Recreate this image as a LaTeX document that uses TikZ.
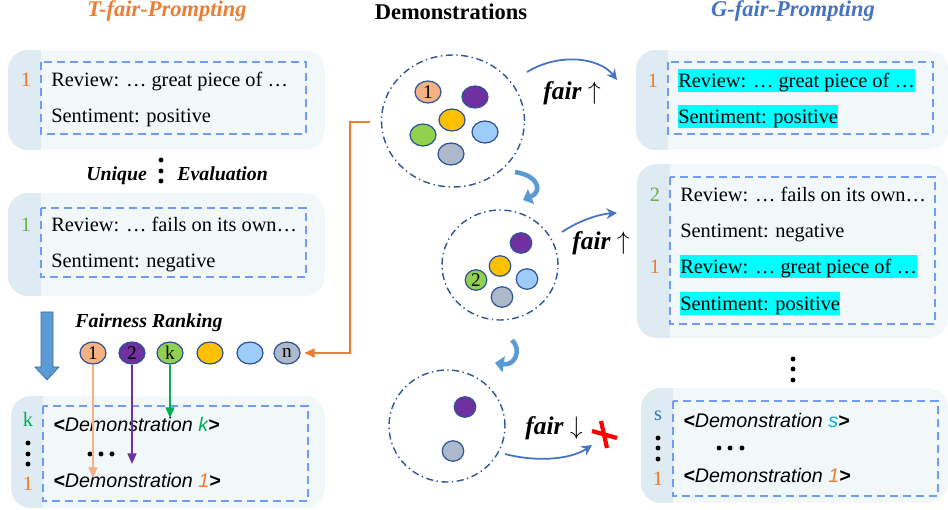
\documentclass[tikz,border=0pt]{standalone}
\usepackage{fontspec}
\setmainfont{Liberation Serif}
\setsansfont{Liberation Sans}
\usetikzlibrary{arrows.meta,shapes.geometric}

\definecolor{torange}{HTML}{ED7D31}
\definecolor{gblue}{HTML}{4472C4}
\definecolor{lgreen}{HTML}{70AD47}
\definecolor{kgreen}{HTML}{00B050}
\definecolor{sblue}{HTML}{2E75B6}
\definecolor{scyan}{HTML}{00B0F0}
\definecolor{panelfill}{HTML}{F2F7FA}
\definecolor{stripfill}{HTML}{DEEBF2}
\definecolor{dashblue}{HTML}{6F9CF6}
\definecolor{poolline}{HTML}{2F5597}
\definecolor{ballline}{HTML}{2F5597}
\definecolor{cpeach}{HTML}{F4B183}
\definecolor{cpurple}{HTML}{7030A0}
\definecolor{cgreen}{HTML}{92D050}
\definecolor{cyellow}{HTML}{FFC000}
\definecolor{clblue}{HTML}{9DCBFA}
\definecolor{cgrey}{HTML}{ADB9CA}
\definecolor{bigblue}{HTML}{5B9BD5}
\definecolor{hlcyan}{HTML}{00FFFF}

\tikzset{
  frame/.style={draw=dashblue, line width=1.1pt, dash pattern=on 0.16cm off 0.1cm},
  txt/.style={anchor=base west, inner sep=0pt, font=\fontsize{11.6}{13}\selectfont},
  hl/.style={txt, fill=hlcyan, inner xsep=0pt, inner ysep=0pt, text height=10.8pt, text depth=2.3pt},
  idx/.style={anchor=base, inner sep=0pt, font=\fontsize{11.6}{13}\selectfont},
  demo/.style={anchor=base west, inner sep=0pt, font=\sffamily\itshape\fontsize{11.2}{13}\selectfont},
  title/.style={anchor=base, inner sep=0pt, font=\bfseries\itshape\fontsize{12.8}{14}\selectfont},
  label/.style={anchor=base west, inner sep=0pt, font=\bfseries\itshape\fontsize{11.3}{13}\selectfont},
  fairtxt/.style={anchor=base west, inner sep=0pt, font=\fontsize{14.5}{16}\selectfont},
  ball/.style={ellipse, draw=ballline, line width=0.7pt, inner sep=0pt,
    minimum width=0.52cm, minimum height=0.44cm, font=\fontsize{11}{12}\selectfont},
  sball/.style={ball, minimum width=0.43cm, minimum height=0.41cm},
  pool/.style={ellipse, draw=poolline, line width=0.8pt, inner sep=0pt,
    dash pattern=on 4pt off 2pt on 0.8pt off 2pt},
  fairarc/.style={-{Stealth[length=6pt,width=6pt,inset=2pt]}, draw=gblue, line width=1pt},
  turn/.style={-{Triangle[length=5pt,width=9pt]}, draw=bigblue, line width=2.6pt},
  pick/.style={-{Triangle[length=6pt,width=5pt]}, line width=1.1pt},
}

% panel with a shaded strip on its left
\newcommand{\promptpanel}[5]{%
  \begin{scope}
    \clip[rounded corners=0.4cm] (#1,#2) rectangle (#3,#4);
    \fill[panelfill] (#1,#2) rectangle (#3,#4);
    \fill[stripfill] (#1,#2) rectangle (#5,#4);
  \end{scope}}
\newcommand{\dotcol}[3]{\foreach \yy in {#2} \fill (#1,\yy) circle (#3);}
\newcommand{\lt}{\textbf{<}}
\newcommand{\gt}{\textbf{>}}

\begin{document}
\begin{tikzpicture}[x=0.02cm, y=-0.02cm]
  \useasboundingbox (0,0) rectangle (948,510);

  % titles
  \node[title, text=torange] (ttitle) at (167,17) {T-fair-Prompting};
  \node[anchor=base, inner sep=0pt, font=\bfseries\fontsize{12.8}{14}\selectfont] (dtitle) at (451,20) {Demonstrations};
  \node[title, text=gblue] (gtitle) at (793,17) {G-fair-Prompting};

  % ---- T-fair side ----
  \promptpanel{8}{50}{325}{150}{41}
  \draw[frame] (41,62) rectangle (306,134);
  \node[idx, text=torange] (l1n) at (26,87) {1};
  \node[txt] (l1r) at (51,87) {Review: … great piece of …};
  \node[txt] (l1s) at (51,123) {Sentiment: positive};

  \node[label] (uniq) at (86,181) {Unique};
  \dotcol{161}{160,171,181}{1.4pt}
  \node[label] (eval) at (177,181) {Evaluation};

  \promptpanel{8}{193}{325}{296}{41}
  \draw[frame] (41,208) rectangle (306,277);
  \node[idx, text=lgreen] (l2n) at (26,232) {1};
  \node[txt] (l2r) at (51,232) {Review: … fails on its own…};
  \node[txt] (l2s) at (51,268) {Sentiment: negative};

  \fill[bigblue, draw=bigblue!70!black, line width=0.4pt]
    (41,312) -- (53,312) -- (53,367) -- (59,367) -- (47,380) -- (35,367) -- (41,367) -- cycle;

  \node[label] (frank) at (75,328) {Fairness Ranking};
  \node[ball, fill=cpeach] (r1) at (93,353) {1};
  \node[ball, fill=cpurple] (r2) at (132,353) {2};
  \node[ball, fill=cgreen] (rk) at (170,353) {k};
  \node[ball, fill=cyellow] (r4) at (210,353) {};
  \node[ball, fill=clblue] (r5) at (250,353) {};
  \node[ball, fill=cgrey] (rn) at (287,353) {n};

  \promptpanel{11}{396}{325}{508}{43}
  \draw[frame] (43,406) rectangle (308,501);
  \node[idx, text=kgreen] (l3k) at (28,426) {k};
  \dotcol{28}{443,454,464}{1.4pt}
  \node[idx, text=torange] (l3n) at (28,490) {1};
  \node[demo] (l3dk) at (53,432) {\lt Demonstration \textcolor{kgreen}{k}\gt};
  \dotcol{90}{454}{1.4pt}
  \dotcol{101}{454}{1.4pt}
  \dotcol{112}{454}{1.4pt}
  \node[demo] (l3d1) at (53,487) {\lt Demonstration \textcolor{torange}{1}\gt};

  \coordinate (p1end) at (93,478);
  \coordinate (p2end) at (132,464);
  \coordinate (pkend) at (170,418);
  \draw[pick, cpeach] (r1.south) -- (p1end);
  \draw[pick, cpurple] (r2.south) -- (p2end);
  \draw[pick, kgreen] (rk.south) -- (pkend);

  % ---- demonstrations ----
  \node[pool, minimum width=2.86cm, minimum height=2.64cm] (pool1) at (453,121) {};
  \node[ball, fill=cpeach] (a1) at (428,92) {1};
  \node[ball, fill=cpurple] (a2) at (475,97) {};
  \node[ball, fill=cyellow] (a3) at (452,120) {};
  \node[ball, fill=cgreen] (a4) at (423,135) {};
  \node[ball, fill=clblue] (a5) at (485,132) {};
  \node[ball, fill=cgrey] (a6) at (451,154) {};

  \node[pool, minimum width=2.32cm, minimum height=2.2cm] (pool2) at (500,265) {};
  \node[sball, fill=cpurple] (b1) at (521,243) {};
  \node[sball, fill=cyellow] (b2) at (500,266) {};
  \node[sball, fill=cgreen] (b3) at (476,280) {2};
  \node[sball, fill=clblue] (b4) at (527,279) {};
  \node[sball, fill=cgrey] (b5) at (502,297) {};

  \node[pool, minimum width=2.32cm, minimum height=2.24cm] (pool3) at (447,426) {};
  \node[sball, fill=cpurple] (c1) at (465,407) {};
  \node[sball, fill=cgrey] (c2) at (453,451) {};

  \coordinate (orng) at (350,122);
  \draw[-{Triangle[length=6pt,width=5pt]}, torange, line width=1.2pt, shorten <=6pt, shorten >=2pt]
    (pool1.west |- orng) -- (orng) |- (rn.east);

  \coordinate (t1a) at (515,172);
  \coordinate (t1b) at (523,200);
  \draw[turn] (t1a) .. controls (540,176) and (542,192) .. (t1b);
  \coordinate (t2a) at (512,340);
  \coordinate (t2b) at (495,363);
  \draw[turn] (t2a) .. controls (522,350) and (515,366) .. (t2b);

  \coordinate (f1a) at (527,72);
  \coordinate (f1b) at (617,80);
  \draw[fairarc] (f1a) .. controls (560,52) and (600,58) .. (f1b);
  \node[fairtxt] (fair1) at (543,100) {\textbf{\textit{fair}} $\uparrow$};
  \coordinate (f2a) at (562,232);
  \coordinate (f2b) at (617,213);
  \draw[fairarc] (f2a) .. controls (580,220) and (600,214) .. (f2b);
  \node[fairtxt] (fair2) at (572,250) {\textbf{\textit{fair}} $\uparrow$};
  \coordinate (f3a) at (505,454);
  \coordinate (f3b) at (592,445);
  \draw[fairarc] (f3a) .. controls (535,462) and (570,460) .. (f3b);
  \node[fairtxt] (fair3) at (525,435) {\textbf{\textit{fair}} $\downarrow$};
  \draw[red, line width=2.4pt] (592,431) -- (617,438) (601,421) -- (607,448);

  % ---- G-fair side ----
  \promptpanel{636}{50}{948}{150}{668}
  \draw[frame] (668,62) rectangle (933,134);
  \node[idx, text=torange] (g1n) at (653,88) {1};
  \node[hl] (g1r) at (678,88) {Review: … great piece of …\ };
  \node[hl] (g1s) at (678,124) {Sentiment: positive};

  \promptpanel{637}{164}{948}{338}{670}
  \draw[frame] (670,177) rectangle (935,324);
  \node[idx, text=lgreen] (g2n) at (655,202) {2};
  \node[txt] (g2r) at (680,202) {Review: … fails on its own…};
  \node[txt] (g2s) at (680,238) {Sentiment: negative};
  \node[idx, text=torange] (g2m) at (655,274) {1};
  \node[hl] (g2r1) at (680,274) {Review: … great piece of …\ };
  \node[hl] (g2s1) at (680,311) {Sentiment: positive};

  \dotcol{793}{359,369,380}{1.4pt}

  \promptpanel{641}{388}{948}{503}{673}
  \draw[frame] (673,401) rectangle (938,496);
  \node[idx, text=sblue] (g3s) at (658,420) {s};
  \dotcol{658}{438,448,459}{1.4pt}
  \node[idx, text=torange] (g3n) at (658,485) {1};
  \node[demo] (g3ds) at (683,427) {\lt Demonstration \textcolor{scyan}{s}\gt};
  \dotcol{719}{448}{1.4pt}
  \dotcol{730}{448}{1.4pt}
  \dotcol{742}{448}{1.4pt}
  \node[demo] (g3d1) at (683,482) {\lt Demonstration \textcolor{torange}{1}\gt};
\end{tikzpicture}
\end{document}
